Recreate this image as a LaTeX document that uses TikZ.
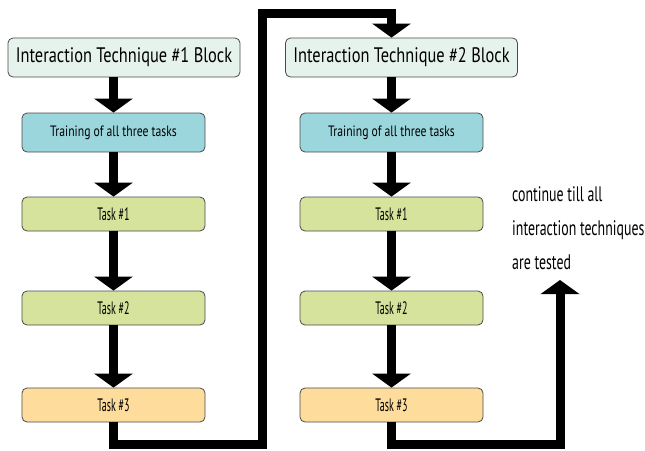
\documentclass[tikz,border=0pt]{standalone}
\usepackage{fontspec}
\setmainfont{PT Sans}[FakeStretch=0.78]
\newfontfamily\slimfont{PT Sans}[FakeStretch=0.66]
\newfontfamily\taskfont{PT Sans}[FakeStretch=0.56]
\usetikzlibrary{arrows.meta}
\usetikzlibrary{calc}

\definecolor{blockfill}{HTML}{E6F3EC}
\definecolor{trainfill}{HTML}{9BD6DC}
\definecolor{taskfill}{HTML}{D5E39C}
\definecolor{lastfill}{HTML}{FDDC9C}
\definecolor{edgegrey}{HTML}{4A4A4A}

\begin{document}
\begin{tikzpicture}[x=1pt,y=-1pt,
    box/.style={draw=edgegrey, line width=0.8pt, rounded corners=5pt, inner sep=0pt},
    block/.style={box, fill=blockfill, minimum width=232pt, minimum height=39pt, font=\fontsize{21}{23}\selectfont},
    train/.style={box, fill=trainfill, minimum width=183pt, minimum height=39pt, font=\fontsize{15}{17}\selectfont},
    task/.style={box, fill=taskfill, minimum width=183pt, minimum height=34pt, font=\taskfont\fontsize{18}{20}\selectfont},
    bigarrow/.style={line width=9pt, line join=miter, -{Triangle[width=38pt,length=14pt]}}]
        \useasboundingbox (0,0) rectangle (645,450);

        % first technique
        \node[block] (B1) at (124,57.5) {Interaction Technique \#1 Block};
        \node[train] (Tr1) at (113.5,132.5) {Training of all three tasks};
        \node[task] (T1a) at (113.5,214) {Task \#1};
        \node[task] (T2a) at (113.5,308) {Task \#2};
        \node[task, fill=lastfill] (T3a) at (113.5,405) {Task \#3};

        % second technique
        \node[block] (B2) at (401.5,57.5) {Interaction Technique \#2 Block};
        \node[train] (Tr2) at (391.5,132.5) {Training of all three tasks};
        \node[task] (T1b) at (391.5,214) {Task \#1};
        \node[task] (T2b) at (391.5,308) {Task \#2};
        \node[task, fill=lastfill] (T3b) at (391.5,405) {Task \#3};

        \node[anchor=north west, align=left, inner sep=0pt,
              font=\slimfont\fontsize{21}{34}\selectfont] (note) at (512,186)
              {continue till all\\interaction techniques\\are tested};

        \draw[bigarrow] (B1.south -| Tr1.north) -- (Tr1.north);
        \draw[bigarrow] (Tr1) -- (T1a);
        \draw[bigarrow] (T1a) -- (T2a);
        \draw[bigarrow] (T2a) -- (T3a);
        \draw[bigarrow] (B2.south -| Tr2.north) -- (Tr2.north);
        \draw[bigarrow] (Tr2) -- (T1b);
        \draw[bigarrow] (T1b) -- (T2b);
        \draw[bigarrow] (T2b) -- (T3b);

        \coordinate (lb) at (262,444);
        \coordinate (lt) at (262,13);
        \draw[bigarrow] (T3a.south) |- (lb) -- (lt) -| (B2.north -| Tr2.north);

        \coordinate (rb) at (560,444);
        \coordinate (rt) at (560,280);
        \draw[bigarrow] (T3b.south) |- (rb) -- (rt);
      \end{tikzpicture}
\end{document}
